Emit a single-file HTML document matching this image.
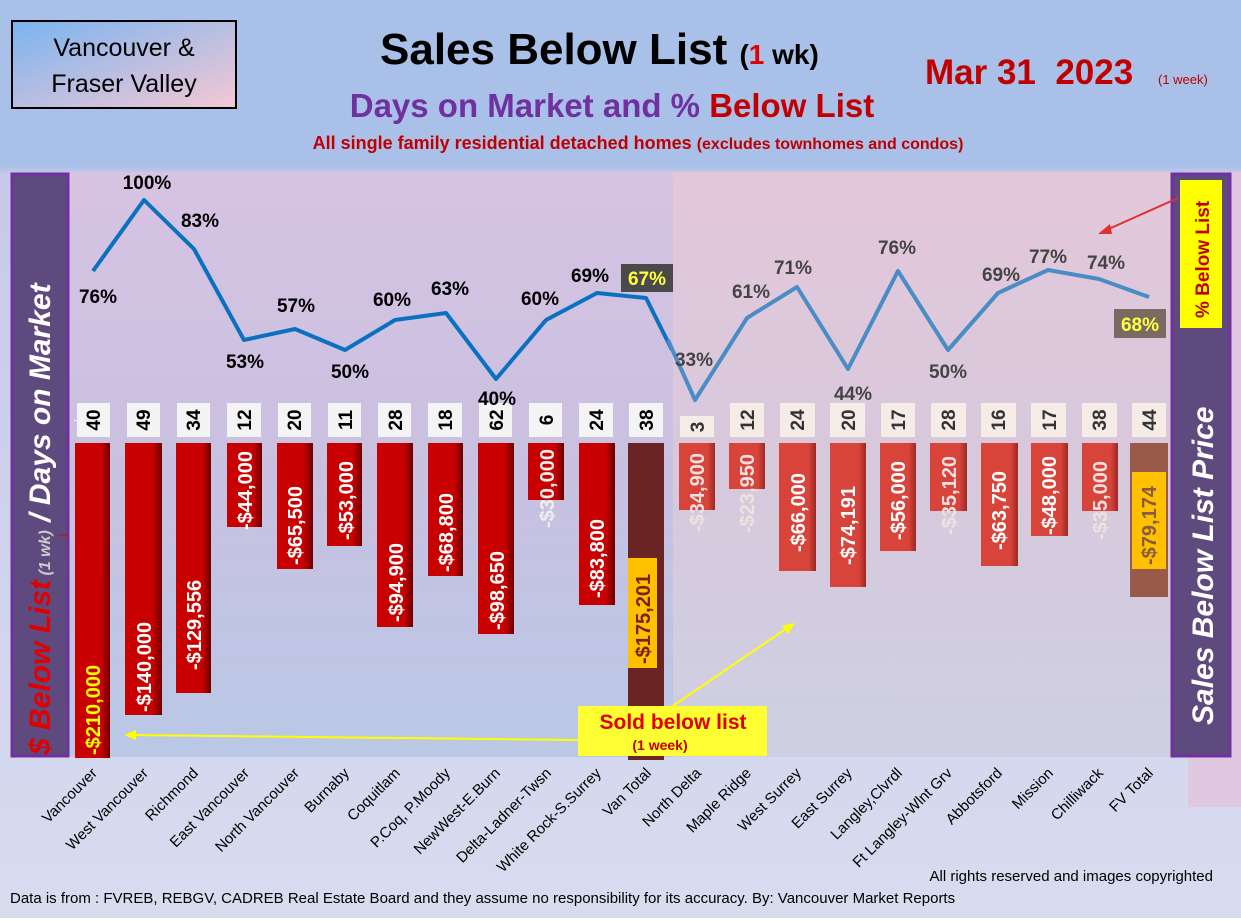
<!DOCTYPE html>
<html><head><meta charset="utf-8"><style>
body{margin:0;width:1241px;height:918px;overflow:hidden;font-family:"Liberation Sans",sans-serif}
</style></head><body>
<svg width="1241" height="918" xmlns="http://www.w3.org/2000/svg" font-family="Liberation Sans, sans-serif">
<defs>
<linearGradient id="bg" x1="0" y1="0" x2="0" y2="1">
<stop offset="0" stop-color="#a9c0e8"/><stop offset="0.18" stop-color="#a9c0e8"/><stop offset="0.19" stop-color="#c7c9ea"/><stop offset="1" stop-color="#d8dcef"/></linearGradient>
<linearGradient id="plot" x1="0" y1="0" x2="0" y2="1">
<stop offset="0" stop-color="#d7c3e2"/><stop offset="0.5" stop-color="#c9c0e0"/><stop offset="1" stop-color="#b9c8e6"/></linearGradient>
<linearGradient id="plot2" x1="0" y1="0" x2="0" y2="1">
<stop offset="0" stop-color="#e3c8da"/><stop offset="0.5" stop-color="#d8c8dc"/><stop offset="1" stop-color="#cdd0e2"/></linearGradient>
<linearGradient id="hdr" x1="0" y1="0" x2="1" y2="1">
<stop offset="0" stop-color="#7ab4f0"/><stop offset="1" stop-color="#f4c8d4"/></linearGradient>
<linearGradient id="rb" x1="0" y1="0" x2="1" y2="0"><stop offset="0" stop-color="#c80000"/><stop offset="0.75" stop-color="#c80000"/><stop offset="1" stop-color="#6a0000"/></linearGradient>
<linearGradient id="rb2" x1="0" y1="0" x2="1" y2="0"><stop offset="0" stop-color="#d8433a"/><stop offset="0.8" stop-color="#d8433a"/><stop offset="1" stop-color="#9a2a24"/></linearGradient>
</defs>
<rect width="1241" height="918" fill="url(#bg)"/>
<rect x="0" y="0" width="1241" height="165" fill="#a9c0e8"/>
<rect x="68" y="172" width="605" height="585" fill="url(#plot)"/>
<rect x="673" y="172" width="500" height="585" fill="url(#plot2)"/>
<rect x="1188" y="172" width="53" height="635" fill="#e0c8e0"/>
<!-- header box -->
<rect x="12" y="21" width="224" height="87" fill="url(#hdr)" stroke="#000" stroke-width="2"/>
<text x="124" y="56" font-size="25" text-anchor="middle">Vancouver &amp;</text>
<text x="124" y="92" font-size="25" text-anchor="middle">Fraser Valley</text>
<text x="380" y="64" font-size="44" font-weight="bold">Sales Below List <tspan font-size="28">(</tspan><tspan font-size="28" fill="#e00000">1</tspan><tspan font-size="28"> wk)</tspan></text>
<text x="612" y="117" font-size="33" font-weight="bold" fill="#7030a0" text-anchor="middle">Days on Market and % <tspan fill="#c00000">Below List</tspan></text>
<text x="638" y="149" font-size="18" font-weight="bold" fill="#c00000" text-anchor="middle">All single family residential detached homes <tspan font-size="16">(excludes townhomes and condos)</tspan></text>
<text x="925" y="84" font-size="35" font-weight="bold" fill="#c00000" xml:space="preserve">Mar 31  2023</text>
<text x="1158" y="84" font-size="13" fill="#c00000">(1 week)</text>
<!-- side panels -->
<rect x="12" y="174" width="56" height="582" fill="#5e4a7e" stroke="#7030a0" stroke-width="3"/>
<text transform="translate(50,755) rotate(-90)" font-size="30" font-weight="bold" font-style="italic" fill="#fff"><tspan fill="#e00000">$ Below List</tspan><tspan font-size="16" fill="#ccc"> (1 wk)</tspan> / Days on Market</text>
<rect x="1172" y="174" width="58" height="582" fill="#5e4a7e" stroke="#7030a0" stroke-width="3"/>
<text transform="translate(1213,725) rotate(-90)" font-size="30" font-weight="bold" font-style="italic" fill="#fff">Sales Below List Price</text>
<rect x="1180" y="180" width="42" height="148" fill="#ffff00"/>
<text transform="translate(1209,318) rotate(-90)" font-size="19" font-weight="bold" fill="#c00000">% Below List</text>
<line x1="1178" y1="198" x2="1102" y2="232" stroke="#e03030" stroke-width="2"/>
<polygon points="1098,234 1110,224 1112,234" fill="#e03030"/>
<text x="70" y="424" font-size="20" font-weight="bold" fill="#fff">→</text>
<text x="54" y="538" font-size="18" font-weight="bold" fill="#e00000">→</text>
<!-- Van bars -->
<g>
<rect x="75" y="443" width="35" height="315" fill="url(#rb)"/>
<rect x="125" y="443" width="37" height="272" fill="url(#rb)"/>
<rect x="176" y="443" width="35" height="250" fill="url(#rb)"/>
<rect x="227" y="443" width="35" height="84" fill="url(#rb)"/>
<rect x="277" y="443" width="36" height="126" fill="url(#rb)"/>
<rect x="327" y="443" width="35" height="103" fill="url(#rb)"/>
<rect x="377" y="443" width="36" height="184" fill="url(#rb)"/>
<rect x="428" y="443" width="35" height="133" fill="url(#rb)"/>
<rect x="478" y="443" width="36" height="191" fill="url(#rb)"/>
<rect x="528" y="443" width="36" height="57" fill="url(#rb)"/>
<rect x="579" y="443" width="36" height="162" fill="url(#rb)"/>
<rect x="628" y="443" width="36" height="317" fill="#6a2424"/>
<rect x="628" y="558" width="29" height="110" fill="#ffc000"/>
<!-- FV bars -->
<rect x="679" y="443" width="36" height="67" fill="url(#rb2)"/>
<rect x="729" y="443" width="36" height="46" fill="url(#rb2)"/>
<rect x="779" y="443" width="37" height="128" fill="url(#rb2)"/>
<rect x="830" y="443" width="36" height="144" fill="url(#rb2)"/>
<rect x="880" y="443" width="36" height="108" fill="url(#rb2)"/>
<rect x="930" y="443" width="37" height="68" fill="url(#rb2)"/>
<rect x="981" y="443" width="37" height="123" fill="url(#rb2)"/>
<rect x="1031" y="443" width="37" height="93" fill="url(#rb2)"/>
<rect x="1082" y="443" width="36" height="68" fill="url(#rb2)"/>
<rect x="1130" y="443" width="38" height="154" fill="#9a5a4a"/>
<rect x="1132" y="472" width="34" height="97" fill="#ffc000"/>
</g>
<!-- bar labels -->
<g font-size="20" font-weight="bold" fill="#fff">
<text transform="translate(100,755) rotate(-90)" fill="#ffff00">-$210,000</text>
<text transform="translate(151,712) rotate(-90)">-$140,000</text>
<text transform="translate(201,670) rotate(-90)">-$129,556</text>
<text transform="translate(252,530) rotate(-90)">-$44,000</text>
<text transform="translate(302,565) rotate(-90)">-$65,500</text>
<text transform="translate(353,540) rotate(-90)">-$53,000</text>
<text transform="translate(403,622) rotate(-90)">-$94,900</text>
<text transform="translate(453,572) rotate(-90)">-$68,800</text>
<text transform="translate(504,630) rotate(-90)">-$98,650</text>
<text transform="translate(554,528) rotate(-90)" fill="#eee">-$30,000</text>
<text transform="translate(604,598) rotate(-90)">-$83,800</text>
<text transform="translate(650,664) rotate(-90)" fill="#7a2010">-$175,201</text>
<text transform="translate(704,532) rotate(-90)" fill="#f0e0e0">-$34,900</text>
<text transform="translate(754,533) rotate(-90)" fill="#f0e0e0">-$23,950</text>
<text transform="translate(805,552) rotate(-90)">-$66,000</text>
<text transform="translate(855,565) rotate(-90)">-$74,191</text>
<text transform="translate(905,540) rotate(-90)">-$56,000</text>
<text transform="translate(956,535) rotate(-90)" fill="#f0e0e0">-$35,120</text>
<text transform="translate(1006,550) rotate(-90)">-$63,750</text>
<text transform="translate(1056,535) rotate(-90)">-$48,000</text>
<text transform="translate(1107,540) rotate(-90)" fill="#f0e0e0">-$35,000</text>
<text transform="translate(1156,565) rotate(-90)" fill="#8a5a40">-$79,174</text>
</g>
<!-- days boxes -->
<g font-size="19" font-weight="bold">
<g fill="#f4f4f4">
<rect x="77" y="403" width="33" height="34"/><rect x="127" y="403" width="33" height="34"/><rect x="177" y="403" width="33" height="34"/><rect x="227" y="403" width="34" height="34"/><rect x="278" y="403" width="33" height="34"/><rect x="328" y="403" width="33" height="34"/><rect x="378" y="403" width="33" height="34"/><rect x="428" y="403" width="34" height="34"/><rect x="479" y="403" width="33" height="34"/><rect x="529" y="403" width="33" height="34"/><rect x="579" y="403" width="34" height="34"/><rect x="629" y="403" width="34" height="34"/>
</g>
<g fill="#f6ece6">
<rect x="680" y="416" width="34" height="21"/><rect x="730" y="403" width="34" height="34"/><rect x="780" y="403" width="35" height="34"/><rect x="830" y="403" width="35" height="34"/><rect x="881" y="403" width="34" height="34"/><rect x="931" y="403" width="35" height="34"/><rect x="981" y="403" width="35" height="34"/><rect x="1031" y="403" width="35" height="34"/><rect x="1082" y="403" width="35" height="34"/><rect x="1132" y="403" width="34" height="34"/>
</g>
<g transform="rotate(-90)" text-anchor="middle">
<text x="-420" y="100">40</text><text x="-420" y="150">49</text><text x="-420" y="200">34</text><text x="-420" y="251">12</text><text x="-420" y="301">20</text><text x="-420" y="352">11</text><text x="-420" y="402">28</text><text x="-420" y="452">18</text><text x="-420" y="503">62</text><text x="-420" y="553">6</text><text x="-420" y="603">24</text><text x="-420" y="653">38</text>
<g fill="#333"><text x="-427" y="704">3</text><text x="-420" y="754">12</text><text x="-420" y="804">24</text><text x="-420" y="855">20</text><text x="-420" y="905">17</text><text x="-420" y="955">28</text><text x="-420" y="1005">16</text><text x="-420" y="1056">17</text><text x="-420" y="1106">38</text><text x="-420" y="1156">44</text></g>
</g>
</g>
<!-- lines -->
<polyline points="93,271 144,200 194,249 244,340 295,329 345,350 395,320 446,313 496,379 546,320 597,293 646,298 672,350" fill="none" stroke="#0a70c0" stroke-width="4" stroke-linejoin="round"/>
<polyline points="668,340 695,400 747,318 797,287 848,369 898,271 948,350 998,293 1048,270 1099,279 1149,297" fill="none" stroke="#4a8cc4" stroke-width="4" stroke-linejoin="round"/>
<g font-size="19" font-weight="bold" text-anchor="middle">
<text x="98" y="303">76%</text><text x="147" y="189">100%</text><text x="200" y="227">83%</text><text x="245" y="368">53%</text><text x="296" y="312">57%</text><text x="350" y="378">50%</text><text x="392" y="306">60%</text><text x="450" y="295">63%</text><text x="497" y="405">40%</text><text x="540" y="305">60%</text><text x="590" y="282">69%</text>
<rect x="621" y="264" width="52" height="28" fill="#4a4a4a"/><text x="647" y="285" fill="#ffff40">67%</text>
<g fill="#444"><text x="694" y="366">33%</text><text x="751" y="298">61%</text><text x="793" y="274">71%</text><text x="853" y="400">44%</text><text x="897" y="254">76%</text><text x="948" y="378">50%</text><text x="1001" y="281">69%</text><text x="1048" y="263">77%</text><text x="1106" y="269">74%</text></g>
<rect x="1114" y="309" width="52" height="29" fill="#7a6a62"/><text x="1140" y="331" fill="#ffff40">68%</text>
</g>
<!-- sold below list -->
<rect x="578" y="706" width="189" height="50" fill="#ffff33"/>
<text x="673" y="729" font-size="21" font-weight="bold" fill="#e00000" text-anchor="middle">Sold below list</text>
<text x="660" y="750" font-size="14" font-weight="bold" fill="#c00000" text-anchor="middle">(1 week)</text>
<line x1="578" y1="740" x2="128" y2="735" stroke="#ffff00" stroke-width="2"/>
<polygon points="124,735 136,730 136,740" fill="#ffff00"/>
<line x1="670" y1="708" x2="790" y2="626" stroke="#ffff00" stroke-width="2"/>
<polygon points="795,623 782,626 788,634" fill="#ffff00"/>
<!-- x labels -->
<g font-size="15" text-anchor="end">
<text transform="translate(98,774) rotate(-45)">Vancouver</text>
<text transform="translate(149,774) rotate(-45)">West Vancouver</text>
<text transform="translate(199,774) rotate(-45)">Richmond</text>
<text transform="translate(250,774) rotate(-45)">East Vancouver</text>
<text transform="translate(300,774) rotate(-45)">North Vancouver</text>
<text transform="translate(350,774) rotate(-45)">Burnaby</text>
<text transform="translate(401,774) rotate(-45)">Coquitlam</text>
<text transform="translate(451,774) rotate(-45)">P.Coq, P.Moody</text>
<text transform="translate(501,774) rotate(-45)">NewWest-E.Burn</text>
<text transform="translate(552,774) rotate(-45)">Delta-Ladner-Twsn</text>
<text transform="translate(602,774) rotate(-45)">White Rock-S.Surrey</text>
<text transform="translate(652,774) rotate(-45)">Van Total</text>
<text transform="translate(702,774) rotate(-45)">North Delta</text>
<text transform="translate(752,774) rotate(-45)">Maple Ridge</text>
<text transform="translate(802,774) rotate(-45)">West Surrey</text>
<text transform="translate(853,774) rotate(-45)">East Surrey</text>
<text transform="translate(903,774) rotate(-45)">Langley,Clvrdl</text>
<text transform="translate(953,774) rotate(-45)">Ft Langley-Wlnt Grv</text>
<text transform="translate(1003,774) rotate(-45)">Abbotsford</text>
<text transform="translate(1054,774) rotate(-45)">Mission</text>
<text transform="translate(1104,774) rotate(-45)">Chilliwack</text>
<text transform="translate(1154,774) rotate(-45)">FV Total</text>
</g>
<text x="1213" y="881" font-size="15" text-anchor="end">All rights reserved and  images copyrighted</text>
<text x="10" y="903" font-size="15">Data is from : FVREB, REBGV, CADREB Real Estate Board and they assume no responsibility for its accuracy. By: Vancouver Market Reports</text>
</svg>
</body></html>
